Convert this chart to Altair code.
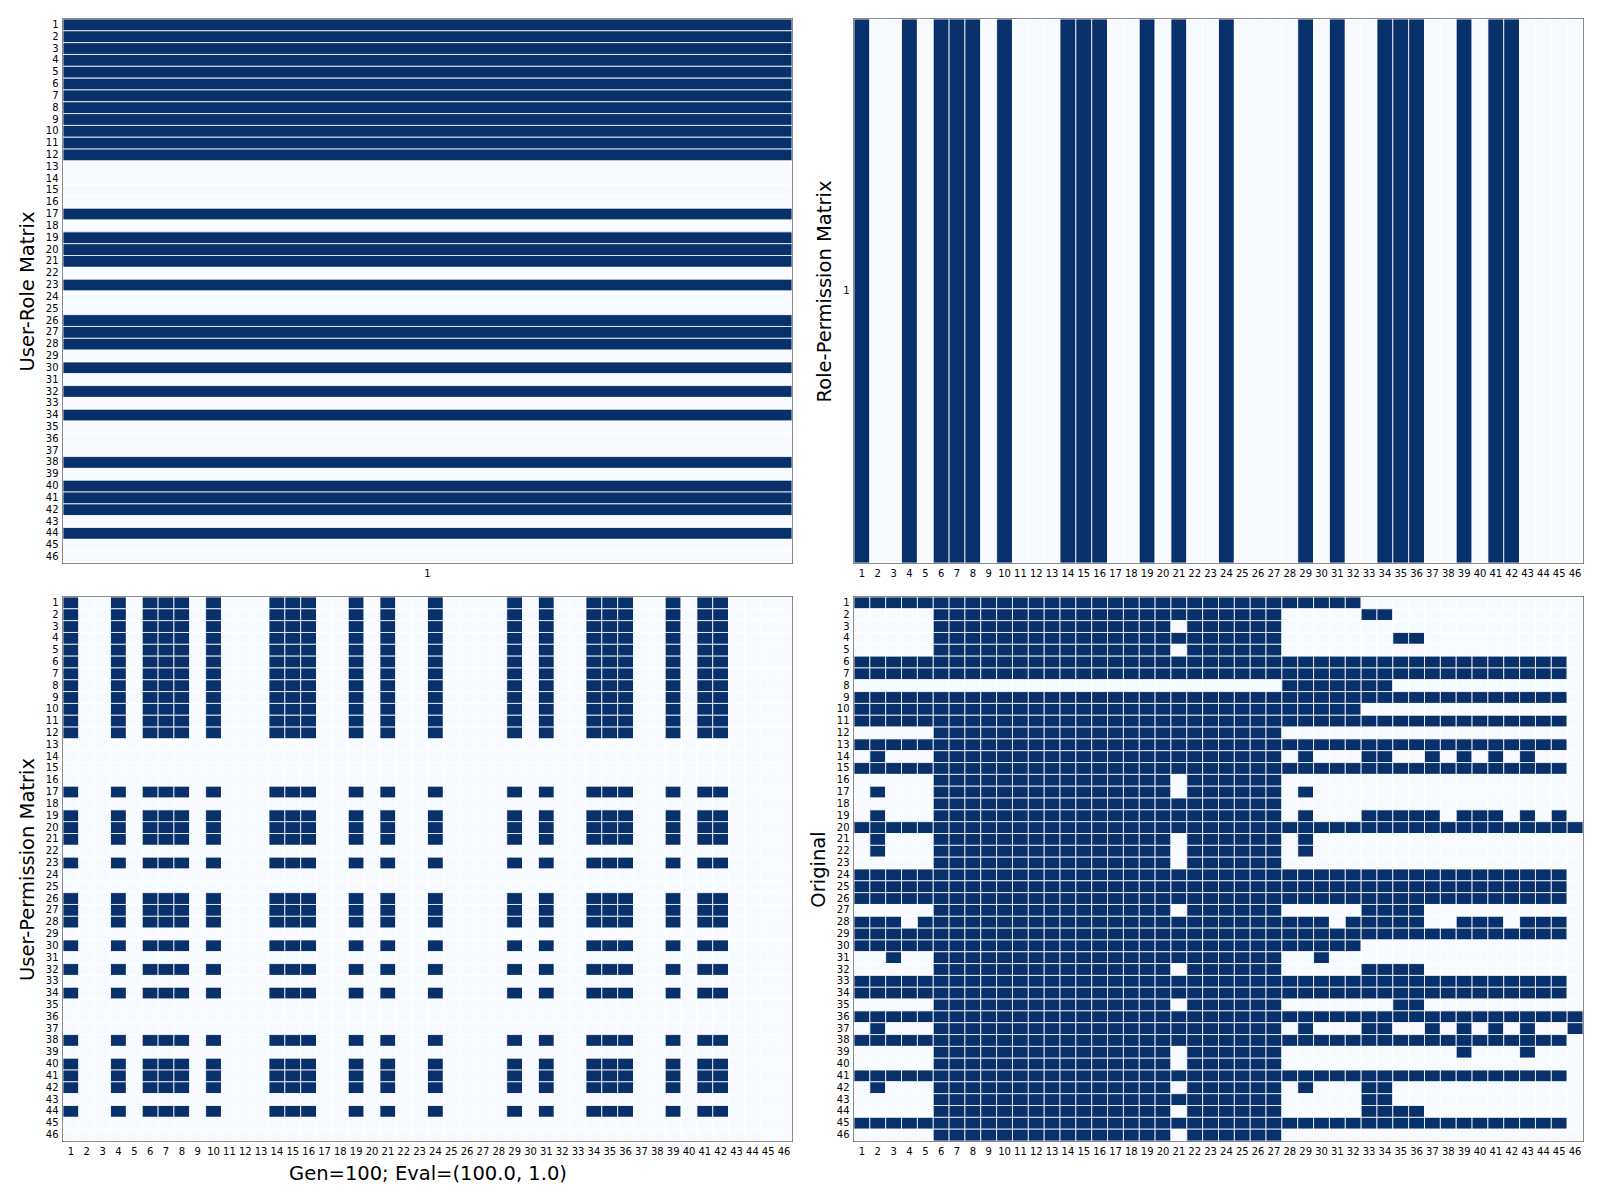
import altair as alt
import pandas as pd

N = 46
TICKS = [str(i) for i in range(1, N + 1)]

# rows of the User-Role matrix that are set (single role column "1")
USER_ROLE_ROWS = [1, 2, 3, 4, 5, 6, 7, 8, 9, 10, 11, 12, 17, 19, 20, 21, 23,
                  26, 27, 28, 30, 32, 34, 38, 40, 41, 42, 44]
# columns of the Role-Permission matrix that are set (single role row "1")
ROLE_PERM_COLS = [1, 4, 6, 7, 8, 10, 14, 15, 16, 19, 21, 24, 29, 31, 34, 35,
                  36, 39, 41, 42]

# Original matrix: per row, the filled column ranges (inclusive)
ORIGINAL_RANGES = [
    [(1, 32)],                                                          # 1
    [(6, 27), (33, 34)],                                                # 2
    [(6, 20), (22, 27)],                                                # 3
    [(6, 27), (35, 36)],                                                # 4
    [(6, 20), (22, 27)],                                                # 5
    [(1, 45)],                                                          # 6
    [(1, 45)],                                                          # 7
    [(28, 34)],                                                         # 8
    [(1, 45)],                                                          # 9
    [(1, 32)],                                                          # 10
    [(1, 45)],                                                          # 11
    [(6, 27)],                                                          # 12
    [(1, 45)],                                                          # 13
    [(2, 2), (6, 27), (29, 29), (33, 34), (37, 37), (39, 39), (41, 41), (43, 43)],  # 14
    [(1, 45)],                                                          # 15
    [(6, 20), (22, 27)],                                                # 16
    [(2, 2), (6, 20), (22, 27), (29, 29)],                              # 17
    [(6, 27)],                                                          # 18
    [(2, 2), (6, 27), (29, 29), (33, 37), (39, 41), (43, 43), (45, 45)],  # 19
    [(1, 46)],                                                          # 20
    [(2, 2), (6, 20), (22, 27), (29, 29)],                              # 21
    [(2, 2), (6, 20), (22, 27), (29, 29)],                              # 22
    [(6, 20), (22, 27)],                                                # 23
    [(1, 45)],                                                          # 24
    [(1, 45)],                                                          # 25
    [(1, 45)],                                                          # 26
    [(6, 20), (22, 27), (33, 36)],                                      # 27
    [(1, 3), (5, 30), (32, 36), (39, 41), (43, 45)],                    # 28
    [(1, 45)],                                                          # 29
    [(1, 32)],                                                          # 30
    [(3, 3), (6, 27), (30, 30)],                                        # 31
    [(6, 20), (22, 27), (33, 36)],                                      # 32
    [(1, 45)],                                                          # 33
    [(1, 45)],                                                          # 34
    [(6, 20), (22, 27), (35, 36)],                                      # 35
    [(1, 46)],                                                          # 36
    [(2, 2), (6, 27), (29, 29), (33, 34), (37, 37), (39, 39), (41, 41), (43, 43), (46, 46)],  # 37
    [(1, 45)],                                                          # 38
    [(6, 20), (22, 27), (39, 39), (43, 43)],                            # 39
    [(6, 20), (22, 27)],                                                # 40
    [(1, 45)],                                                          # 41
    [(2, 2), (6, 20), (22, 27), (29, 29), (33, 34)],                    # 42
    [(6, 27), (33, 34)],                                                # 43
    [(6, 20), (22, 27), (33, 36)],                                      # 44
    [(1, 45)],                                                          # 45
    [(6, 20), (22, 27)],                                                # 46
]

TITLE_UR = "User-Role Matrix"
TITLE_RP = "Role-Permission Matrix"
TITLE_UP = "User-Permission Matrix"
TITLE_OR = "Original"
XTITLE_UP = "Gen=100; Eval=(100.0, 1.0)"

LIGHT = "#f7fbff"
DARK = "#08306b"

# ---------- build tables ----------
ur_set = set(USER_ROLE_ROWS)
rp_set = set(ROLE_PERM_COLS)

ur_df = pd.DataFrame([{"row": str(r), "col": "1", "v": int(r in ur_set)}
                      for r in range(1, N + 1)])
rp_df = pd.DataFrame([{"row": "1", "col": str(c), "v": int(c in rp_set)}
                      for c in range(1, N + 1)])
up_df = pd.DataFrame([{"row": str(r), "col": str(c),
                       "v": int(r in ur_set and c in rp_set)}
                      for r in range(1, N + 1) for c in range(1, N + 1)])


def in_ranges(c, ranges):
    return any(a <= c <= b for a, b in ranges)


or_df = pd.DataFrame([{"row": str(r), "col": str(c),
                       "v": int(in_ranges(c, ORIGINAL_RANGES[r - 1]))}
                      for r in range(1, N + 1) for c in range(1, N + 1)])

W, H = 729, 544


def panel(df, xsort, ysort, ytitle, xtitle=None):
    if xtitle:
        xaxis = alt.Axis(title=xtitle, labelAngle=0)
    else:
        xaxis = alt.Axis(title=None, labelAngle=0)
    return alt.Chart(df).mark_rect(stroke="white", strokeWidth=0.8).encode(
        x=alt.X("col:O", sort=xsort, axis=xaxis,
                scale=alt.Scale(paddingInner=0, paddingOuter=0)),
        y=alt.Y("row:O", sort=ysort, axis=alt.Axis(title=ytitle),
                scale=alt.Scale(paddingInner=0, paddingOuter=0)),
        color=alt.Color("v:Q", scale=alt.Scale(domain=[0, 1], range=[LIGHT, DARK]),
                        legend=None),
    ).properties(width=W, height=H)


p_ur = panel(ur_df, ["1"], TICKS, TITLE_UR)
p_rp = panel(rp_df, TICKS, ["1"], TITLE_RP)
p_up = panel(up_df, TICKS, TICKS, TITLE_UP, XTITLE_UP)
p_or = panel(or_df, TICKS, TICKS, TITLE_OR)

chart = alt.concat(
    p_ur, p_rp, p_up, p_or, columns=2,
    spacing={"row": 34, "column": 62}, bounds="flush"
).resolve_scale(
    x="independent", y="independent"
).properties(
    padding={"left": 16, "top": 17, "right": 5, "bottom": 5}
).configure_view(
    stroke="black", strokeWidth=1.5
).configure_axis(
    labelFont="DejaVu Sans", labelFontSize=10, labelColor="black",
    titleFont="DejaVu Sans", titleFontSize=19.5, titleFontWeight="normal",
    titleColor="black", ticks=False, domain=False, labelPadding=5,
    titlePadding=8, grid=False
)

chart.save("out.html", embed_options={"renderer": "svg", "actions": False})
